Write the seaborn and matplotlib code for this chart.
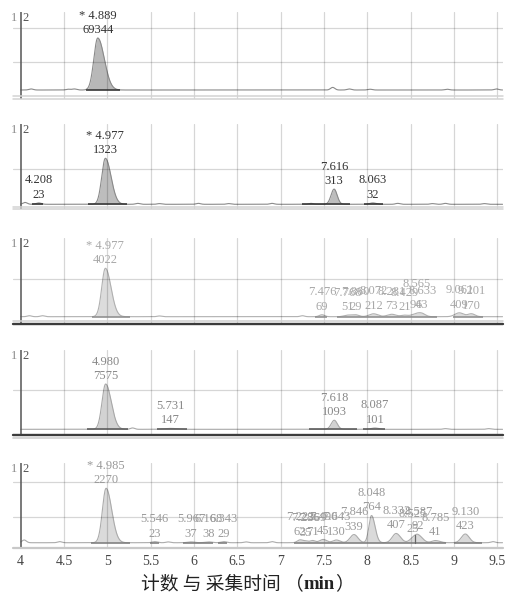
import numpy as np
import pandas as pd
import matplotlib
matplotlib.use("Agg")
import matplotlib.pyplot as plt
import matplotlib.transforms as mtransforms
import seaborn as sns

# ---------------------------------------------------------------------------
# Peak tables for the five traces.
# rt: retention time (min); height: relative to the tallest peak of the trace;
# area: integrated peak area printed above the peak; sl/sr: left/right peak width.
# ---------------------------------------------------------------------------
rt_1 = [4.889]
height_1 = [1.00]
area_1 = [69344]
sl_1 = [0.045]
sr_1 = [0.075]

rt_2 = [4.208, 4.977, 7.616, 8.063]
height_2 = [0.03, 1.00, 0.33, 0.03]
area_2 = [23, 1323, 313, 32]
sl_2 = [0.03, 0.042, 0.035, 0.035]
sr_2 = [0.03, 0.065, 0.035, 0.035]

rt_3 = [4.977, 7.476, 7.768, 7.860, 8.072, 8.281, 8.429, 8.565, 8.633, 9.061, 9.201]
height_3 = [1.00, 0.04, 0.03, 0.04, 0.06, 0.05, 0.03, 0.06, 0.05, 0.08, 0.06]
area_3 = [4022, 69, 51, 29, 212, 73, 21, 94, 63, 409, 170]
sl_3 = [0.042, 0.03, 0.04, 0.04, 0.05, 0.05, 0.04, 0.05, 0.04, 0.05, 0.04]
sr_3 = [0.065, 0.03, 0.04, 0.04, 0.05, 0.05, 0.04, 0.05, 0.04, 0.05, 0.04]

rt_4 = [4.980, 5.731, 7.618, 8.087]
height_4 = [1.00, 0.02, 0.20, 0.03]
area_4 = [7575, 147, 1093, 101]
sl_4 = [0.042, 0.08, 0.035, 0.04]
sr_4 = [0.065, 0.08, 0.035, 0.04]

rt_5 = [4.985, 5.546, 5.967, 6.168, 6.343, 7.222, 7.286, 7.369, 7.490, 7.643,
        7.846, 8.048, 8.332, 8.525, 8.587, 8.785, 9.130]
height_5 = [1.00, 0.02, 0.015, 0.015, 0.02, 0.05, 0.03, 0.04, 0.06, 0.05,
            0.15, 0.50, 0.17, 0.07, 0.13, 0.04, 0.16]
area_5 = [2270, 23, 37, 38, 29, 62, 35, 71, 45, 130,
          339, 764, 407, 25, 92, 41, 423]
sl_5 = [0.042, 0.03, 0.04, 0.04, 0.03, 0.03, 0.03, 0.03, 0.04, 0.04,
        0.045, 0.03, 0.045, 0.04, 0.04, 0.04, 0.045]
sr_5 = [0.065, 0.03, 0.04, 0.04, 0.03, 0.03, 0.03, 0.03, 0.04, 0.04,
        0.045, 0.04, 0.05, 0.04, 0.05, 0.05, 0.045]

# the target compound is flagged with "*" in these traces
starred = [True, True, True, False, True]

# small unlabelled baseline features
bump_rt_1 = [4.12, 4.55, 4.62, 7.60, 7.79, 8.03, 8.92, 9.49]
bump_h_1 = [0.02, 0.015, 0.02, 0.05, 0.02, 0.015, 0.015, 0.02]
bump_rt_2 = [4.05, 5.35, 5.60, 6.05, 6.40, 6.90, 7.35, 8.35, 8.75, 8.90, 9.35]
bump_h_2 = [0.04, 0.02, 0.015, 0.02, 0.015, 0.02, 0.02, 0.02, 0.015, 0.02, 0.015]
bump_rt_3 = [4.10, 4.25, 5.60, 7.25]
bump_h_3 = [0.02, 0.02, 0.015, 0.02]
bump_rt_4 = [5.29, 8.90, 9.40]
bump_h_4 = [0.03, 0.015, 0.015]
bump_rt_5 = [4.04, 4.45, 5.70, 6.60, 6.90, 9.45]
bump_h_5 = [0.05, 0.02, 0.015, 0.015, 0.02, 0.02]
# peak-split marker in the last trace
split_rt_5 = 8.555

# integration windows (min)
win_1 = [(4.754, 5.147)]
win_2 = [(4.127, 4.26), (4.78, 5.23), (7.24, 7.80), (7.96, 8.18)]
win_3 = [(4.82, 5.26), (7.40, 7.53), (7.65, 8.80), (8.99, 9.33)]
win_4 = [(4.77, 5.24), (5.57, 5.92), (7.33, 7.88), (7.95, 8.20)]
win_5 = [(4.81, 5.26), (5.49, 5.60), (5.87, 6.22), (6.28, 6.38), (7.15, 8.91), (9.00, 9.32)]

x_ticks = [4, 4.5, 5, 5.5, 6, 6.5, 7, 7.5, 8, 8.5, 9, 9.5]
x_tick_labels = ["4", "4.5", "5", "5.5", "6", "6.5", "7", "7.5", "8", "8.5", "9", "9.5"]
x_title = "计数 与 采集时间 （"
x_unit = "min"

# ---------------------------------------------------------------------------
sns.set_style("white")
plt.rcParams["font.family"] = ["Liberation Serif", "DejaVu Serif"]

W, H = 517, 596
fig = plt.figure(figsize=(W / 100, H / 100), dpi=100)

# per-panel layout (pixel rows) and styling
panels = [
    dict(rt=rt_1, h=height_1, area=area_1, sl=sl_1, sr=sr_1, brt=bump_rt_1, bh=bump_h_1,
         win=win_1, top=12, bot=99, ylim=(-0.173, 1.50), grid=[1.192, 0.538],
         fill="#b8b8b8", line="#8a8a8a", integ="#2e2e2e", txt="#333333", bottom="double", dgap=3.3),
    dict(rt=rt_2, h=height_2, area=area_2, sl=sl_2, sr=sr_2, brt=bump_rt_2, bh=bump_h_2,
         win=win_2, top=124, bot=209.3, ylim=(-0.109, 1.746), grid=[0.767],
         fill="#bdbdbd", line="#8a8a8a", integ="#2e2e2e", txt="#333333", bottom="double", dgap=2.6),
    dict(rt=rt_3, h=height_3, area=area_3, sl=sl_3, sr=sr_3, brt=bump_rt_3, bh=bump_h_3,
         win=win_3, top=238, bot=324, ylim=(-0.151, 1.626), grid=[0.779],
         fill="#dcdcdc", line="#b0b0b0", integ="#8a8a8a", txt="#a8a8a8", bottom="dark_up",
         raise_={7: 5.0}),
    dict(rt=rt_4, h=height_4, area=area_4, sl=sl_4, sr=sr_4, brt=bump_rt_4, bh=bump_h_4,
         win=win_4, top=350, bot=435.2, ylim=(-0.130, 1.751), grid=[0.868],
         fill="#d2d2d2", line="#a8a8a8", integ="#555555", txt="#888888", bottom="dark_down"),
    dict(rt=rt_5, h=height_5, area=area_5, sl=sl_5, sr=sr_5, brt=bump_rt_5, bh=bump_h_5,
         win=win_5, top=463, bot=548, ylim=(-0.097, 1.465), grid=[1.110, 0.478],
         fill="#dadada", line="#ababab", integ="#7a7a7a", txt="#9a9a9a", bottom="axis"),
]

left_px, right_px = 13, 503
x_min, x_max = 3.911, 9.565
x = np.linspace(4.0, 9.56, 3000)


def trace(xs, rts, hs, sls, srs):
    y = np.zeros_like(xs)
    for r, h, a, b in zip(rts, hs, sls, srs):
        s = np.where(xs < r, a, b)
        y += h * np.exp(-0.5 * ((xs - r) / s) ** 2)
    return y


grid_col = (0, 0, 0, 0.16)
for i, p in enumerate(panels):
    ax = fig.add_axes([left_px / W, 1 - p["bot"] / H, (right_px - left_px) / W,
                       (p["bot"] - p["top"]) / H])
    ax_h = p["bot"] - p["top"]

    y = trace(x, p["rt"], p["h"], p["sl"], p["sr"])
    y += trace(x, p["brt"], p["bh"], [0.025] * len(p["brt"]), [0.025] * len(p["brt"]))

    # integrated areas
    for a, b in p["win"]:
        m = (x >= a) & (x <= b)
        ax.fill_between(x[m], 0, y[m], color=p["fill"], lw=0, zorder=2)
        ax.plot([a, b], [0, 0], color=p["integ"], lw=1.1, zorder=3.5, solid_capstyle="butt")

    df = pd.DataFrame({"rt": x, "signal": y})
    sns.lineplot(data=df, x="rt", y="signal", ax=ax, color=p["line"], lw=0.8,
                 estimator=None, sort=False, zorder=3)

    if i == 4:
        ys = trace(np.array([split_rt_5]), p["rt"], p["h"], p["sl"], p["sr"])[0]
        ax.plot([split_rt_5, split_rt_5], [0, ys], color="#666666", lw=0.9, zorder=3.6)

    # grid drawn over the filled peaks
    for gx in x_ticks[1:]:
        ax.axvline(gx, color=grid_col, lw=0.9, zorder=3.2)
    for gy in p["grid"]:
        ax.axhline(gy, color=grid_col, lw=0.9, zorder=3.2)
    ax.axvline(4.0, color="#555555", lw=1.1, zorder=4)

    ax.set_xlim(x_min, x_max)
    ax.set_ylim(*p["ylim"])
    ax.set_xlabel("")
    ax.set_ylabel("")
    ax.set_yticks([])
    for s in ax.spines.values():
        s.set_visible(False)

    # bottom rules
    px = 1.0 / ax_h
    if p["bottom"] == "double":
        for yy in (0.0, p["dgap"] * px):
            ax.plot([0, 1], [yy, yy], transform=ax.transAxes, color="#d3d3d3",
                    lw=1.1, clip_on=False, zorder=5)
    elif p["bottom"] == "dark_up":
        ax.plot([0, 1], [0, 0], transform=ax.transAxes, color="#3c3c3c",
                lw=1.7, clip_on=False, zorder=5)
        ax.plot([0, 1], [2.6 * px, 2.6 * px], transform=ax.transAxes, color="#cfcfcf",
                lw=1.1, clip_on=False, zorder=5)
    elif p["bottom"] == "dark_down":
        ax.plot([0, 1], [0, 0], transform=ax.transAxes, color="#3c3c3c",
                lw=1.7, clip_on=False, zorder=5)
        ax.plot([0, 1], [-2.4 * px, -2.4 * px], transform=ax.transAxes, color="#cfcfcf",
                lw=1.2, clip_on=False, zorder=5)
    else:
        ax.plot([0, 1], [0, 0], transform=ax.transAxes, color="#c8c8c8",
                lw=1.6, clip_on=False, zorder=5)

    if i == 4:
        ax.set_xticks(x_ticks)
        ax.set_xticklabels(x_tick_labels, fontsize=10, color="#444444")
        ax.tick_params(axis="x", length=0, pad=5)
    else:
        ax.set_xticks([])

    # "1|2" trace index at the top left
    blend = mtransforms.blended_transform_factory(ax.transData, ax.transAxes)
    ax.annotate("1", xy=(4.0, 1.0), xycoords=blend, xytext=(-4.8, -4.0),
                textcoords="offset points", ha="center", va="center",
                fontsize=9, color="#8a8a8a")
    ax.annotate("2", xy=(4.0, 1.0), xycoords=blend, xytext=(3.3, -4.0),
                textcoords="offset points", ha="center", va="center",
                fontsize=9, color="#555555")

    # peak labels: retention time over area
    main_idx = int(np.argmax(p["h"]))
    lift = p.get("raise_", {})
    for j, (r, a) in enumerate(zip(p["rt"], p["area"])):
        apex = trace(np.array([r]), p["rt"], p["h"], p["sl"], p["sr"])[0]
        rt_txt = f"{r:.3f}"
        if j == main_idx and starred[i]:
            rt_txt = "* " + rt_txt
        dy = lift.get(j, 0.0)
        ax.annotate(str(a), xy=(r, apex), xytext=(0, 5.8), textcoords="offset points",
                    ha="center", va="center", fontsize=9, color=p["txt"], zorder=6)
        ax.annotate(rt_txt, xy=(r, apex), xytext=(0, 16.2 + dy), textcoords="offset points",
                    ha="center", va="center", fontsize=9, color=p["txt"], zorder=6)

# axis title: Chinese text with the unit in bold
fig.canvas.draw()
renderer = fig.canvas.get_renderer()
t1 = fig.text(0, 0, x_title, fontsize=13.5, color="#222222",
              family=["Noto Sans CJK SC", "DejaVu Sans"], va="baseline")
t2 = fig.text(0, 0, x_unit, fontsize=13.5, color="#222222", fontweight="bold",
              family=["Liberation Serif", "DejaVu Serif"], va="baseline")
t3 = fig.text(0, 0, "）", fontsize=13.5, color="#222222",
              family=["Noto Sans CJK SC", "DejaVu Sans"], va="baseline")
w1 = t1.get_window_extent(renderer).width
w2 = t2.get_window_extent(renderer).width
w3 = t3.get_window_extent(renderer).width
total = w1 + w2 + w3
x0 = 247 - total / 2
yb = 1 - 589 / H
t1.set_position((x0 / W, yb))
t2.set_position(((x0 + w1) / W, yb))
t3.set_position(((x0 + w1 + w2) / W, yb))

fig.savefig("out.png", dpi=100, facecolor="white")
